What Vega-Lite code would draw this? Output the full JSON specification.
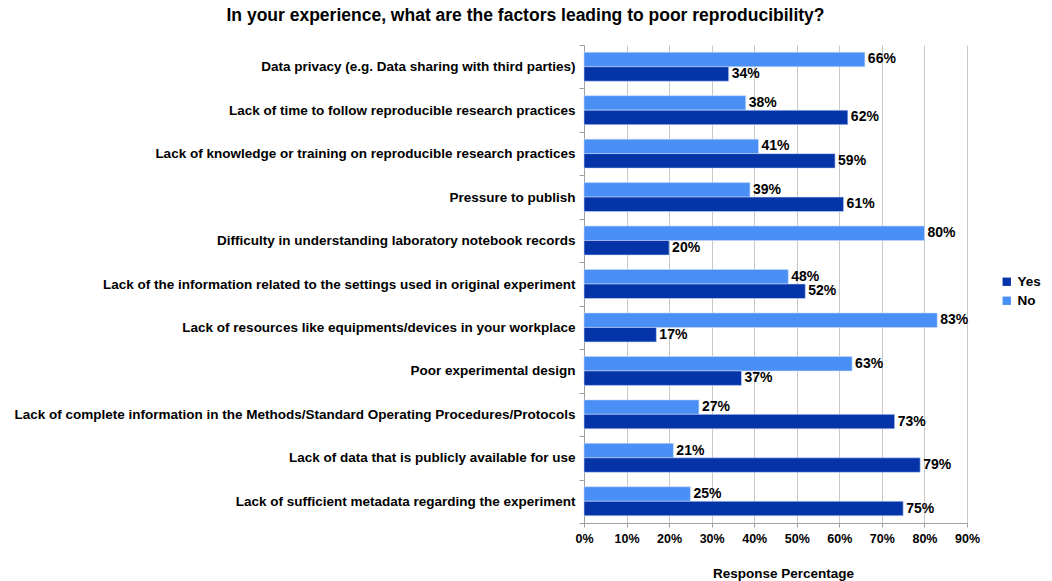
{
  "$schema": "https://vega.github.io/schema/vega-lite/v6.json",
  "width": 383,
  "height": 478,
  "autosize": {"type": "none"},
  "padding": {"left": 584, "top": 45, "right": 85, "bottom": 58},
  "background": "white",
  "config": {"view": {"stroke": null}},
  "title": {
    "text": "In your experience, what are the factors leading to poor reproducibility?",
    "font": "Liberation Sans",
    "fontSize": 17.5,
    "fontWeight": "bold",
    "color": "#000000",
    "anchor": "middle",
    "frame": "group",
    "dx": -250,
    "offset": 14
  },
  "data": {
    "values": [
      {"factor": "Data privacy (e.g. Data sharing with third parties)", "response": "No", "value": 0.66},
      {"factor": "Data privacy (e.g. Data sharing with third parties)", "response": "Yes", "value": 0.34},
      {"factor": "Lack of time to follow reproducible research practices", "response": "No", "value": 0.38},
      {"factor": "Lack of time to follow reproducible research practices", "response": "Yes", "value": 0.62},
      {"factor": "Lack of knowledge or training on reproducible research practices", "response": "No", "value": 0.41},
      {"factor": "Lack of knowledge or training on reproducible research practices", "response": "Yes", "value": 0.59},
      {"factor": "Pressure to publish", "response": "No", "value": 0.39},
      {"factor": "Pressure to publish", "response": "Yes", "value": 0.61},
      {"factor": "Difficulty in understanding laboratory notebook records", "response": "No", "value": 0.80},
      {"factor": "Difficulty in understanding laboratory notebook records", "response": "Yes", "value": 0.20},
      {"factor": "Lack of the information related to the settings used in original experiment", "response": "No", "value": 0.48},
      {"factor": "Lack of the information related to the settings used in original experiment", "response": "Yes", "value": 0.52},
      {"factor": "Lack of resources like equipments/devices in your workplace", "response": "No", "value": 0.83},
      {"factor": "Lack of resources like equipments/devices in your workplace", "response": "Yes", "value": 0.17},
      {"factor": "Poor experimental design", "response": "No", "value": 0.63},
      {"factor": "Poor experimental design", "response": "Yes", "value": 0.37},
      {"factor": "Lack of complete information in the Methods/Standard Operating Procedures/Protocols", "response": "No", "value": 0.27},
      {"factor": "Lack of complete information in the Methods/Standard Operating Procedures/Protocols", "response": "Yes", "value": 0.73},
      {"factor": "Lack of data that is publicly available for use", "response": "No", "value": 0.21},
      {"factor": "Lack of data that is publicly available for use", "response": "Yes", "value": 0.79},
      {"factor": "Lack of sufficient metadata regarding the experiment", "response": "No", "value": 0.25},
      {"factor": "Lack of sufficient metadata regarding the experiment", "response": "Yes", "value": 0.75}
    ]
  },
  "encoding": {
    "y": {
      "field": "factor",
      "type": "nominal",
      "sort": null,
      "scale": {"paddingInner": 0, "paddingOuter": 0},
      "axis": {
        "title": null,
        "labelFont": "Liberation Sans",
        "labelFontSize": 13.5,
        "labelFontWeight": "bold",
        "labelColor": "#000000",
        "labelLimit": 700,
        "labelPadding": 4,
        "tickBand": "extent",
        "tickSize": 5,
        "tickColor": "#a0a0a0",
        "domainColor": "#a0a0a0",
        "grid": false
      }
    },
    "yOffset": {
      "field": "response",
      "type": "nominal",
      "sort": ["No", "Yes"],
      "scale": {"paddingInner": 0, "paddingOuter": 0.5}
    },
    "x": {
      "field": "value",
      "type": "quantitative",
      "scale": {"domain": [0, 0.9]},
      "axis": {
        "title": "Response Percentage",
        "titleFont": "Liberation Sans",
        "titleFontSize": 13.5,
        "titleFontWeight": "bold",
        "titleColor": "#000000",
        "titlePadding": 22,
        "titleX": 199,
        "format": ".0%",
        "values": [0, 0.1, 0.2, 0.3, 0.4, 0.5, 0.6, 0.7, 0.8, 0.9],
        "labelFlush": false,
        "labelFont": "Liberation Sans",
        "labelFontSize": 12.5,
        "labelFontWeight": "bold",
        "labelColor": "#000000",
        "labelPadding": 5,
        "tickSize": 4,
        "tickColor": "#a0a0a0",
        "domainColor": "#a0a0a0",
        "grid": true,
        "gridColor": "#c8c8c8"
      }
    }
  },
  "layer": [
    {
      "mark": {"type": "bar", "stroke": "#c8d8f8", "strokeWidth": 0.6},
      "encoding": {
        "color": {
          "field": "response",
          "type": "nominal",
          "scale": {"domain": ["Yes", "No"], "range": ["#0533a8", "#4a8ff5"]},
          "legend": {
            "title": null,
            "orient": "none",
            "legendX": 416,
            "legendY": 230,
            "symbolType": "square",
            "symbolSize": 70,
            "symbolStrokeWidth": 0,
            "labelFont": "Liberation Sans",
            "labelFontSize": 13.5,
            "labelFontWeight": "bold",
            "labelColor": "#000000",
            "rowPadding": 4
          }
        }
      }
    },
    {
      "mark": {"type": "text", "align": "left", "dx": 3, "font": "Liberation Sans", "fontWeight": "bold", "fontSize": 14, "color": "#000000"},
      "encoding": {"text": {"field": "value", "type": "quantitative", "format": ".0%"}}
    }
  ]
}
